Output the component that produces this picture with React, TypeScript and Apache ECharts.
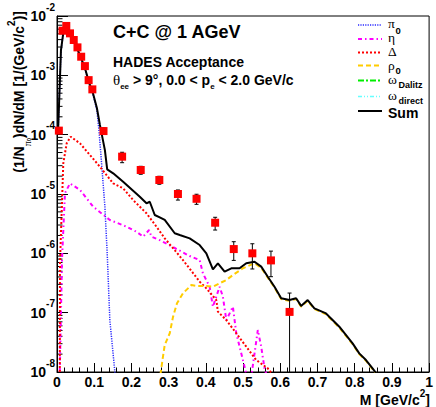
import React, { useEffect, useRef } from 'react';
import * as echarts from 'echarts';

const FONT = '"Liberation Sans", Arial, Helvetica, sans-serif';
const SERIF = '"Liberation Serif", "DejaVu Serif", serif';

// ---- data ----
const pointM = [0.005, 0.015, 0.025, 0.035, 0.045, 0.055, 0.065, 0.075, 0.085, 0.095, 0.125, 0.175, 0.225, 0.275, 0.325, 0.375, 0.425, 0.475, 0.525, 0.575, 0.625];
const pointY = [1.17e-4, 5.65e-3, 6.8e-3, 5.1e-3, 3.94e-3, 2.96e-3, 2.06e-3, 1.43e-3, 8.3e-4, 5.8e-4, 1.15e-4, 4.26e-5, 2.54e-5, 1.72e-5, 1.0e-5, 8.3e-6, 3.28e-6, 1.18e-6, 1.0e-6, 7.6e-7, 1.03e-7];
const errLo = [1.08e-4, 5.4e-3, 6.5e-3, 4.9e-3, 3.78e-3, 2.84e-3, 1.97e-3, 1.37e-3, 7.9e-4, 5.5e-4, 1.02e-4, 3.37e-5, 2.15e-5, 1.46e-5, 7.9e-6, 6.7e-6, 2.47e-6, 7.6e-7, 5.45e-7, 4.04e-7, 1.0e-8];
const errHi = [1.26e-4, 5.9e-3, 7.1e-3, 5.3e-3, 4.1e-3, 3.08e-3, 2.15e-3, 1.49e-3, 8.7e-4, 6.1e-4, 1.3e-4, 5.05e-5, 2.93e-5, 1.99e-5, 1.17e-5, 9.9e-6, 4.05e-6, 1.57e-6, 1.45e-6, 1.09e-6, 2.14e-7];

const pi0Curve: [number, number][] = [
  [0.003, 1.1e-4], [0.0107, 2.6e-3], [0.0169, 5.1e-3], [0.026, 6.7e-3], [0.0349, 5.3e-3], [0.0437, 3.9e-3],
  [0.0536, 2.85e-3], [0.0643, 1.93e-3], [0.075, 1.3e-3], [0.0858, 7.5e-4], [0.0965, 4.8e-4], [0.1072, 2.6e-4],
  [0.1126, 1.2e-4], [0.1198, 3.3e-5], [0.1287, 6.1e-6], [0.1349, 1.0e-6], [0.142, 7.5e-8], [0.1555, 1.0e-8], [0.158, 8e-9],
];
const etaCurve: [number, number][] = [
  [0.0075, 1e-8], [0.0134, 7.8e-7], [0.0214, 1.03e-5], [0.0349, 1.51e-5], [0.0617, 1.17e-5], [0.0973, 6.1e-6],
  [0.142, 3.65e-6], [0.1869, 2.81e-6], [0.2137, 2.31e-6], [0.2314, 1.91e-6], [0.2475, 2.47e-6], [0.2539, 1.91e-6],
  [0.2761, 1.67e-6], [0.3164, 1.23e-6], [0.3566, 9.0e-7], [0.3834, 7.7e-7], [0.3922, 4.6e-7], [0.4102, 2.74e-7],
  [0.419, 1.26e-7], [0.437, 2.74e-7], [0.4458, 1.86e-7], [0.455, 7.5e-8], [0.4727, 1.26e-7], [0.4818, 4.5e-8],
  [0.504, 1.23e-8], [0.509, 9e-9], [0.5228, 9e-9], [0.5397, 5.1e-8], [0.5488, 2.67e-8], [0.5576, 1.15e-8], [0.563, 9e-9],
];
const deltaCurve: [number, number][] = [
  [0.0075, 1e-8], [0.008, 6.8e-7], [0.0169, 3.29e-5], [0.026, 7.15e-5], [0.0367, 9.24e-5], [0.0617, 7.15e-5],
  [0.1153, 2.88e-5], [0.1509, 1.51e-5], [0.1777, 1.25e-5], [0.2046, 7.9e-6], [0.2405, 4.73e-6], [0.2673, 2.81e-6],
  [0.2895, 1.79e-6], [0.3386, 7.7e-7], [0.3834, 3.33e-7], [0.4013, 2.57e-7], [0.4281, 1.63e-7], [0.4324, 1.04e-7],
  [0.455, 7.5e-8], [0.4818, 4.5e-8], [0.5086, 2.67e-8], [0.5354, 1.59e-8], [0.5665, 1.15e-8], [0.58, 9e-9],
];
const rhoCurve: [number, number][] = [
  [0.278, 9e-9], [0.2834, 1.59e-8], [0.2895, 2.85e-8], [0.303, 4.5e-8], [0.3118, 8.5e-8], [0.3225, 1.44e-7],
  [0.3386, 2.12e-7], [0.3611, 2.92e-7], [0.3788, 2.81e-7], [0.4013, 2.81e-7], [0.419, 2.74e-7], [0.437, 3.13e-7],
  [0.455, 3.55e-7], [0.4727, 4.31e-7], [0.4995, 5.6e-7], [0.5308, 6.8e-7], [0.5488, 5.7e-7], [0.5665, 3.9e-7],
  [0.5845, 2.65e-7], [0.6024, 1.7e-7], [0.6247, 1.58e-7], [0.6426, 1.7e-7], [0.656, 1.26e-7], [0.6737, 1.58e-7],
  [0.6917, 1.15e-7], [0.723, 9.4e-8], [0.7587, 5.6e-8], [0.7944, 2.95e-8], [0.8123, 2.0e-8], [0.8303, 1.55e-8],
  [0.848, 1.12e-8], [0.858, 9.2e-9],
];
const omegaDalitzCurve: [number, number][] = [];
const omegaDirectCurve: [number, number][] = [];
const sumCurve: [number, number][] = [
  [0.003, 1.2e-4], [0.0107, 2.67e-3], [0.0169, 5.2e-3], [0.026, 6.8e-3], [0.0349, 5.37e-3], [0.0437, 3.94e-3],
  [0.0536, 2.89e-3], [0.0643, 1.96e-3], [0.075, 1.33e-3], [0.0858, 7.7e-4], [0.0965, 5.04e-4], [0.1072, 2.81e-4],
  [0.1153, 1.46e-4], [0.1287, 5.5e-5], [0.1349, 2.6e-5], [0.151, 2.23e-5], [0.1777, 1.61e-5], [0.2225, 9.0e-6],
  [0.2405, 6.97e-6], [0.2493, 7.4e-6], [0.2627, 4.43e-6], [0.2761, 4.05e-6], [0.2895, 3.65e-6], [0.3164, 2.18e-6],
  [0.3298, 2.04e-6], [0.3566, 1.79e-6], [0.3834, 1.38e-6], [0.4013, 1.0e-6], [0.419, 5.38e-7], [0.4324, 6.8e-7],
  [0.4504, 4.9e-7], [0.4684, 5.6e-7], [0.4906, 5.6e-7], [0.5086, 6.8e-7], [0.5308, 7.2e-7], [0.5488, 5.96e-7],
  [0.5665, 4.04e-7], [0.5845, 2.74e-7], [0.6024, 1.75e-7], [0.6247, 1.63e-7], [0.6426, 1.75e-7], [0.656, 1.3e-7],
  [0.6737, 1.63e-7], [0.6917, 1.18e-7], [0.723, 9.7e-8], [0.7587, 5.8e-8], [0.7944, 3.04e-8], [0.8123, 2.06e-8],
  [0.8303, 1.59e-8], [0.848, 1.15e-8], [0.858, 9.5e-9],
];

const xTickValues = [0, 0.1, 0.2, 0.3, 0.4, 0.5, 0.6, 0.7, 0.8, 0.9, 1];
const xTickLabels = ['0', '0.1', '0.2', '0.3', '0.4', '0.5', '0.6', '0.7', '0.8', '0.9', '1'];
const yDecades = [-8, -7, -6, -5, -4, -3];
const yMinorMultipliers = [2, 3, 4, 5, 6, 7, 8, 9];

const legendItems = [
  { sym: 'π', sub: '0', color: '#2a2aff', dash: [1.2, 1.2], width: 1.5 },
  { sym: 'η', sub: '', color: '#ff00ff', dash: [4, 3, 1.5, 3], width: 2 },
  { sym: 'Δ', sub: '', color: '#ff0000', dash: [2, 2], width: 2 },
  { sym: 'ρ', sub: '0', color: '#ffcc00', dash: [5, 3], width: 2 },
  { sym: 'ω', sub: 'Dalitz', color: '#00ee00', dash: [6, 2, 2, 2], width: 2 },
  { sym: 'ω', sub: 'direct', color: '#66ffff', dash: [4, 2, 1, 2, 1, 2], width: 1.5 },
  { sym: 'Sum', sub: '', color: '#000000', dash: null as number[] | null, width: 2 },
];
const legendRowY = [25, 39, 52.5, 65.5, 80.5, 96.5, 111];
const legendSymbolDy = [-1.5, -2, -1.5, 0, -1, -1, 2];

const txt = (x: number, y: number, text: string, size: number, opts: any = {}) => ({
  type: 'text',
  x,
  y,
  silent: true,
  rotation: opts.rotation || 0,
  style: {
    text,
    fontFamily: opts.family || FONT,
    fontWeight: opts.weight || 'bold',
    fontSize: size,
    lineHeight: opts.lineHeight || size,
    fill: '#000',
    align: opts.align || 'left',
    verticalAlign: 'middle',
    textAlign: opts.align || 'left',
    textVerticalAlign: 'middle',
  },
});

function buildOption() {
  const minorTickValues: number[] = [];
  yDecades.forEach((d) => yMinorMultipliers.forEach((m) => minorTickValues.push(m * Math.pow(10, d))));

  const lineSeries = (name: string, data: [number, number][], idx: number, z: number) => {
    const it = legendItems[idx];
    return {
      name,
      type: 'line',
      data,
      showSymbol: false,
      symbol: 'none',
      clip: true,
      z,
      silent: true,
      lineStyle: { color: it.color, width: it.width, type: it.dash ? it.dash : 'solid' },
    };
  };

  const legendGraphics: any[] = [];
  legendItems.forEach((it, i) => {
    const y = legendRowY[i];
    legendGraphics.push({
      type: 'line',
      shape: { x1: 358, y1: y, x2: 382, y2: y },
      style: { stroke: it.color, lineWidth: it.width, lineDash: it.dash || undefined },
      silent: true,
    });
    const isSum = it.sym === 'Sum';
    if (isSum) {
      legendGraphics.push(txt(388, y + legendSymbolDy[i], 'Sum', 14, { lineHeight: 11 }));
    } else {
      legendGraphics.push(txt(388, y + legendSymbolDy[i], it.sym, 13.5, { family: SERIF, weight: 'normal', lineHeight: 11 }));
    }
    if (it.sub) {
      const isZero = it.sub === '0';
      legendGraphics.push(txt(isZero ? 395.5 : 398.5, y + (isZero ? 5 : 4.5), it.sub, isZero ? 9.5 : 9, { lineHeight: 8 }));
    }
  });

  return {
    animation: false,
    backgroundColor: '#ffffff',
    grid: { left: 57, top: 16, right: 6, bottom: 35, show: true, borderColor: '#000', borderWidth: 1, backgroundColor: 'transparent' },
    xAxis: {
      type: 'value',
      min: 0,
      max: 1,
      interval: 0.1,
      axisLine: { show: true, onZero: false, lineStyle: { color: '#000', width: 1 } },
      axisTick: { show: true, inside: true, length: 9, lineStyle: { color: '#000', width: 1 } },
      minorTick: { show: true, splitNumber: 5, length: 4.5, lineStyle: { color: '#000', width: 1 } },
      splitLine: { show: false },
      axisLabel: {
        color: '#000',
        fontFamily: FONT,
        fontWeight: 'bold',
        fontSize: 14,
        lineHeight: 12,
        margin: 4,
        formatter: (v: number) => {
          const i = xTickValues.findIndex((t) => Math.abs(t - v) < 1e-6);
          return i >= 0 ? xTickLabels[i] : '';
        },
      },
    },
    yAxis: {
      type: 'log',
      logBase: 10,
      min: 1e-8,
      max: 1e-2,
      splitNumber: 6,
      axisLine: { show: true, onZero: false, lineStyle: { color: '#000', width: 1 } },
      axisTick: { show: true, inside: true, length: 11, lineStyle: { color: '#000', width: 1 } },
      minorTick: { show: false },
      splitLine: { show: false },
      axisLabel: {
        margin: 2,
        formatter: (v: number) => `{b|10}{s|${Math.round(Math.log10(v))}}`,
        rich: {
          b: { fontFamily: FONT, fontWeight: 'bold', fontSize: 14, color: '#000', lineHeight: 28, verticalAlign: 'middle' },
          s: { fontFamily: FONT, fontWeight: 'bold', fontSize: 10, color: '#000', lineHeight: 10, verticalAlign: 'top' },
        },
      },
    },
    graphic: [
      txt(113, 32, 'C+C @ 1 AGeV', 18),
      txt(113, 62, 'HADES Acceptance', 14),
      {
        type: 'text',
        x: 113,
        y: 80,
        silent: true,
        style: {
          text: '{t|θ}{sub|ee}{n| > 9°, 0.0 < p}{sub|e}{n| < 2.0 GeV/c}',
          align: 'left',
          verticalAlign: 'middle',
          textAlign: 'left',
          textVerticalAlign: 'middle',
          rich: {
            t: { fontFamily: SERIF, fontSize: 15, fill: '#000', color: '#000', lineHeight: 20, verticalAlign: 'middle' },
            n: { fontFamily: FONT, fontWeight: 'bold', fontSize: 14, fill: '#000', color: '#000', lineHeight: 20, verticalAlign: 'middle' },
            sub: { fontFamily: FONT, fontWeight: 'bold', fontSize: 8, fill: '#000', color: '#000', lineHeight: 8, verticalAlign: 'bottom' },
          },
        },
      },
      // x-axis title: M [GeV/c^2]
      txt(430, 399.5, ']', 14, { align: 'right', lineHeight: 12 }),
      txt(425.3, 393.5, '2', 10, { align: 'right', lineHeight: 8 }),
      txt(419.7, 399.5, 'M [GeV/c', 14, { align: 'right', lineHeight: 12 }),
      {
        type: 'text',
        x: 19,
        y: 11,
        rotation: Math.PI / 2,
        silent: true,
        style: {
          text: '{a|(1/N}{p|π}{z|0}{a|)dN/dM [1/(GeV/c}{s|2}{a|)]}',
          align: 'right',
          verticalAlign: 'middle',
          textAlign: 'right',
          textVerticalAlign: 'middle',
          rich: {
            a: { fontFamily: FONT, fontWeight: 'bold', fontSize: 14, fill: '#000', color: '#000', lineHeight: 26, verticalAlign: 'middle' },
            p: { fontFamily: SERIF, fontSize: 10, fill: '#000', color: '#000', lineHeight: 10, verticalAlign: 'bottom' },
            z: { fontFamily: FONT, fontWeight: 'bold', fontSize: 6, fill: '#000', color: '#000', lineHeight: 5, verticalAlign: 'bottom' },
            s: { fontFamily: FONT, fontWeight: 'bold', fontSize: 10, fill: '#000', color: '#000', lineHeight: 10, verticalAlign: 'top' },
          },
        },
      },
      ...legendGraphics,
    ],
    series: [
      {
        name: 'yMinorTicks',
        type: 'custom',
        silent: true,
        z: 1,
        data: minorTickValues.map((v) => [0, v]),
        renderItem: (_p: any, api: any) => {
          const pt = api.coord([0, api.value(1)]);
          return {
            type: 'line',
            shape: { x1: pt[0], y1: pt[1], x2: pt[0] + 5.5, y2: pt[1] },
            style: { stroke: '#000', lineWidth: 1 },
          };
        },
      },
      lineSeries('π0', pi0Curve, 0, 2),
      lineSeries('η', etaCurve, 1, 2),
      lineSeries('Δ', deltaCurve, 2, 2),
      lineSeries('ρ0', rhoCurve, 3, 2),
      lineSeries('ωDalitz', omegaDalitzCurve, 4, 2),
      lineSeries('ωdirect', omegaDirectCurve, 5, 2),
      lineSeries('Sum', sumCurve, 6, 3),
      {
        name: 'errors',
        type: 'custom',
        silent: true,
        z: 4,
        clip: true,
        data: pointM.map((m, i) => [m, errLo[i], errHi[i]]),
        encode: { x: 0, y: [1, 2] },
        renderItem: (_p: any, api: any) => {
          const lo = api.coord([api.value(0), api.value(1)]);
          const hi = api.coord([api.value(0), api.value(2)]);
          const children: any[] = [
            { type: 'line', shape: { x1: lo[0], y1: lo[1], x2: hi[0], y2: hi[1] }, style: { stroke: '#000', lineWidth: 1 } },
            { type: 'line', shape: { x1: hi[0] - 2, y1: hi[1], x2: hi[0] + 2, y2: hi[1] }, style: { stroke: '#000', lineWidth: 1 } },
          ];
          if (api.value(1) > 1.01e-8) {
            children.push({ type: 'line', shape: { x1: lo[0] - 2, y1: lo[1], x2: lo[0] + 2, y2: lo[1] }, style: { stroke: '#000', lineWidth: 1 } });
          }
          return { type: 'group', children };
        },
      },
      {
        name: 'data',
        type: 'scatter',
        silent: true,
        z: 5,
        symbol: 'rect',
        symbolSize: 8,
        itemStyle: { color: '#ff0000', opacity: 1 },
        data: pointM.map((m, i) => [m, pointY[i]]),
      },
    ],
  };
}

export default function App() {
  const ref = useRef<HTMLDivElement>(null);
  useEffect(() => {
    if (!ref.current) return;
    const chart = echarts.init(ref.current, null, { renderer: 'svg' });
    chart.setOption(buildOption() as any);
    return () => chart.dispose();
  }, []);
  return <div ref={ref} style={{ position: 'absolute', left: 0, top: 0, width: 436, height: 407, background: '#fff' }} />;
}
